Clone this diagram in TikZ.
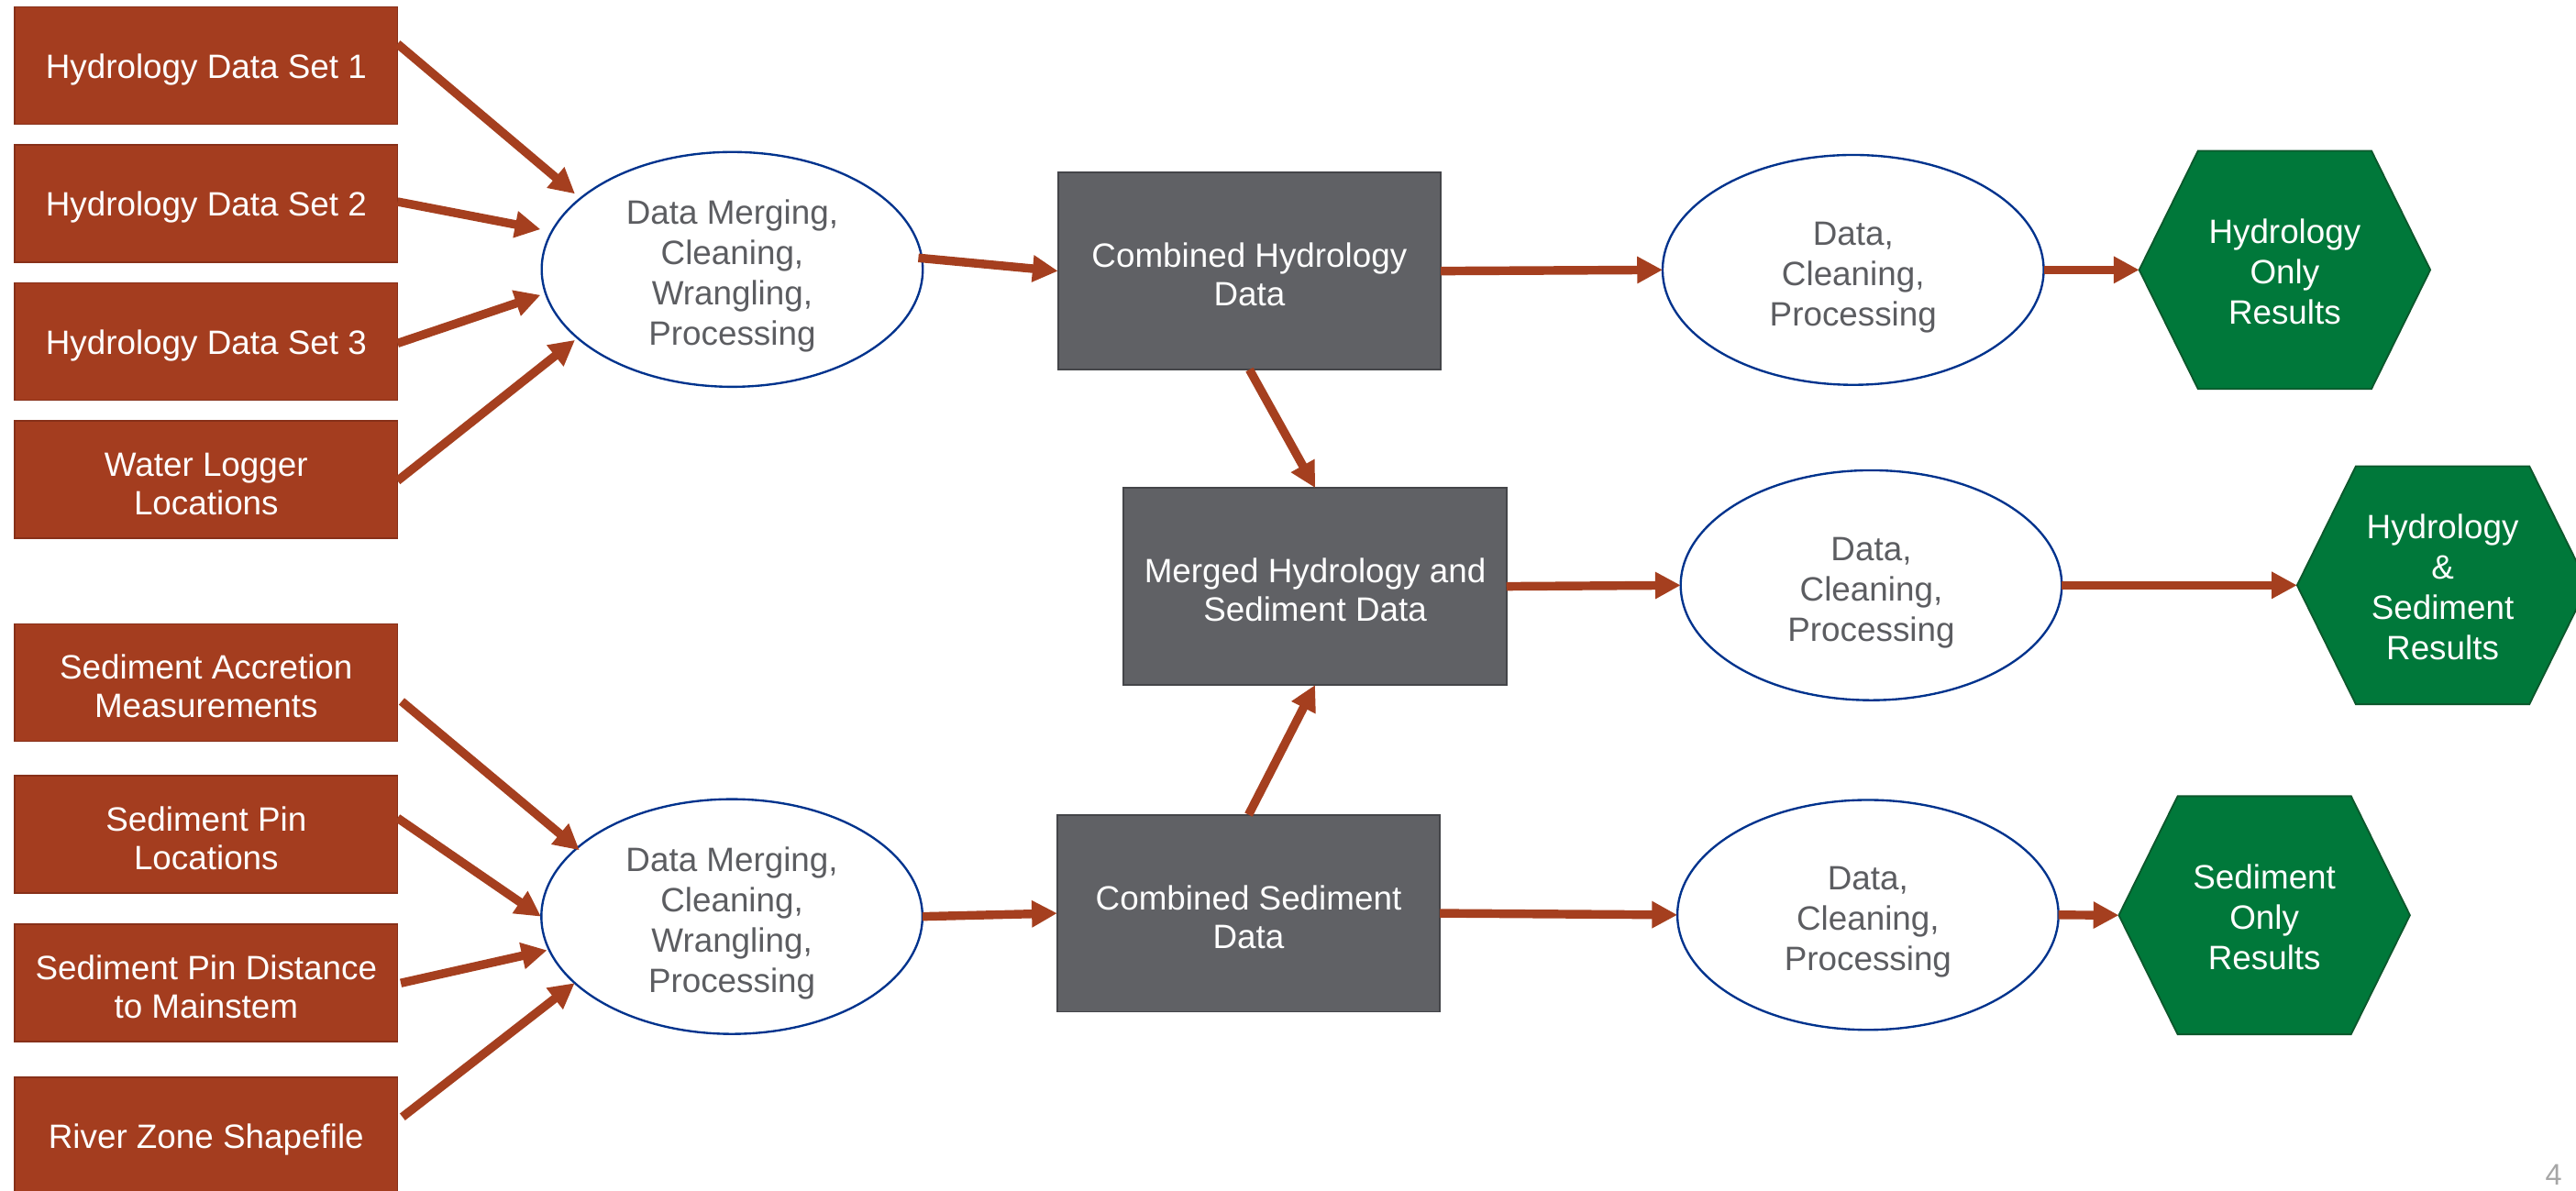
\documentclass[tikz,border=0pt]{standalone}
\usepackage{fontspec}
\setmainfont{Liberation Sans}
\usetikzlibrary{arrows.meta,shapes.geometric,calc,backgrounds}
\definecolor{brickc}{RGB}{164,61,31}
\definecolor{brickline}{RGB}{135,48,25}
\definecolor{grayc}{RGB}{96,97,101}
\definecolor{grayline}{RGB}{68,69,73}
\definecolor{greenc}{RGB}{0,120,58}
\definecolor{greenline}{RGB}{12,88,44}
\definecolor{bluec}{RGB}{0,51,141}
\definecolor{textgray}{RGB}{92,93,97}
\definecolor{arrowc}{RGB}{165,63,31}
\definecolor{pagegray}{RGB}{166,166,166}
\newcommand{\fs}{\rule{0pt}{1.12em}}
\newcommand{\fsb}{\rule{0pt}{0.95em}}
\newcommand{\fsh}{\rule{0pt}{0.84em}}
\begin{document}
\begin{tikzpicture}[x=0.02cm,y=-0.02cm,
  srcbox/.style={draw=brickline, line width=0.5pt, fill=brickc, text=white,
    minimum width=4.66cm, minimum height=1.43cm, inner sep=0pt, outer sep=0pt,
    align=center, font=\fontsize{11.7}{13.3}\selectfont},
  databox/.style={draw=grayline, line width=0.6pt, fill=grayc, text=white,
    minimum width=4.66cm, minimum height=2.4cm, inner sep=0pt, outer sep=0pt,
    align=center, font=\fontsize{11.7}{13.3}\selectfont},
  proc/.style={ellipse, draw=bluec, line width=0.75pt, fill=white, text=textgray,
    minimum width=4.64cm, minimum height=2.8cm, inner sep=0pt, outer sep=0pt,
    align=center, font=\fontsize{11.7}{14}\selectfont},
  hexcore/.style={minimum width=2.112cm, minimum height=2.9cm, inner sep=0pt,
    outer sep=0pt, text=white, align=center, font=\fontsize{11.7}{14}\selectfont},
  hexfill/.style={fill=greenc, draw=greenline, line width=0.6pt},
  flow/.style={draw=arrowc, line width=3.0pt,
    -{Triangle[length=0.31cm,width=0.31cm]}},
]
\useasboundingbox (0,0) rectangle (1568,725);

% source boxes
\node[srcbox] (b1) at (125.5,40) {\fsb Hydrology Data Set 1};
\node[srcbox] (b2) at (125.5,124) {\fsb Hydrology Data Set 2};
\node[srcbox] (b3) at (125.5,208) {\fsb Hydrology Data Set 3};
\node[srcbox] (b4) at (125.5,292) {\fsb Water Logger\\Locations};
\node[srcbox] (b5) at (125.5,415.5) {\fsb Sediment Accretion\\Measurements};
\node[srcbox] (b6) at (125.5,508) {\fsb Sediment Pin\\Locations};
\node[srcbox] (b7) at (125.5,598.5) {\fsb Sediment Pin Distance\\to Mainstem};
\node[srcbox] (b8) at (125.5,691.5) {\fsb River Zone Shapefile};

% processing ellipses
\node[proc] (e1) at (445.7,164) {\fs Data Merging,\\Cleaning,\\Wrangling,\\Processing};
\node[proc] (e2) at (445.5,558) {\fs Data Merging,\\Cleaning,\\Wrangling,\\Processing};
\node[proc] (e3) at (1128,164.3) {\fs Data,\\Cleaning,\\Processing};
\node[proc] (e4) at (1139,356.3) {\fs Data,\\Cleaning,\\Processing};
\node[proc] (e5) at (1137,557) {\fs Data,\\Cleaning,\\Processing};

% data boxes
\node[databox] (c1) at (760.5,165) {\fsb Combined Hydrology\\Data};
\node[databox] (m) at (800.5,357) {\fsb Merged Hydrology and\\Sediment Data};
\node[databox] (c2) at (760,556) {\fsb Combined Sediment\\Data};

% result hexagons
\node[hexcore] (h1) at (1390.7,164.3) {\fsh Hydrology\\Only\\Results};
\node[hexcore] (h2) at (1486.8,356.3) {\fsh Hydrology\\\&\\Sediment\\Results};
\node[hexcore] (h3) at (1378.3,557.2) {\fsh Sediment\\Only\\Results};
\foreach \h in {h1,h2,h3}{
  \coordinate (\h tip) at ($(\h.west)+(-35.8,0)$);
  \coordinate (\h pt) at ($(\h.east)+(35.8,0)$);
}
\begin{scope}[on background layer]
\foreach \h in {h1,h2,h3}{
  \path[hexfill] (\h.north west) -- (\h.north east) -- (\h pt) --
    (\h.south east) -- (\h.south west) -- (\h tip) -- cycle;
}
\end{scope}

% page number
\node[anchor=base, text=pagegray, font=\fontsize{10.3}{12}\selectfont, inner sep=0pt] (pg) at (1554.4,721.5) {4};

% connectors: hydrology inputs
\draw[flow] ($(b1.east)+(0,-13.3)$) -- ($(e1.center)+(-95.7,-46)$);
\draw[flow] ($(b2.east)+(0,-1.2)$) -- ($(e1.center)+(-116.7,-24.4)$);
\draw[flow] ($(b3.east)+(0,1)$) -- ($(e1.center)+(-116.7,15.6)$);
\draw[flow] ($(b4.east)+(0,0.7)$) -- ($(e1.center)+(-95.7,43)$);
% sediment inputs
\draw[flow] ($(b5.east)+(2.5,11.5)$) -- ($(e2.center)+(-92.8,-40.4)$);
\draw[flow] ($(b6.east)+(0,-10)$) -- ($(e2.center)+(-116.2,0)$);
\draw[flow] ($(b7.east)+(2,0)$) -- ($(e2.center)+(-112.5,20.5)$);
\draw[flow] ($(b8.east)+(3,-11.5)$) -- ($(e2.center)+(-95.7,40.5)$);
% middle
\draw[flow] ($(e1.center)+(113.3,-7)$) -- (c1.west);
\draw[flow] (e2.east) -- (c2.west);
\draw[flow] (c1.south) -- (m.north);
\draw[flow] (c2.north) -- (m.south);
\draw[flow] (c1.east) -- (e3.west);
\draw[flow] (m.east) -- (e4.west);
\draw[flow] (c2.east) -- (e5.west);
% results
\draw[flow] (e3.east) -- (h1tip);
\draw[flow] (e4.east) -- (h2tip);
\draw[flow] (e5.east) -- (h3tip);
\end{tikzpicture}
\end{document}
